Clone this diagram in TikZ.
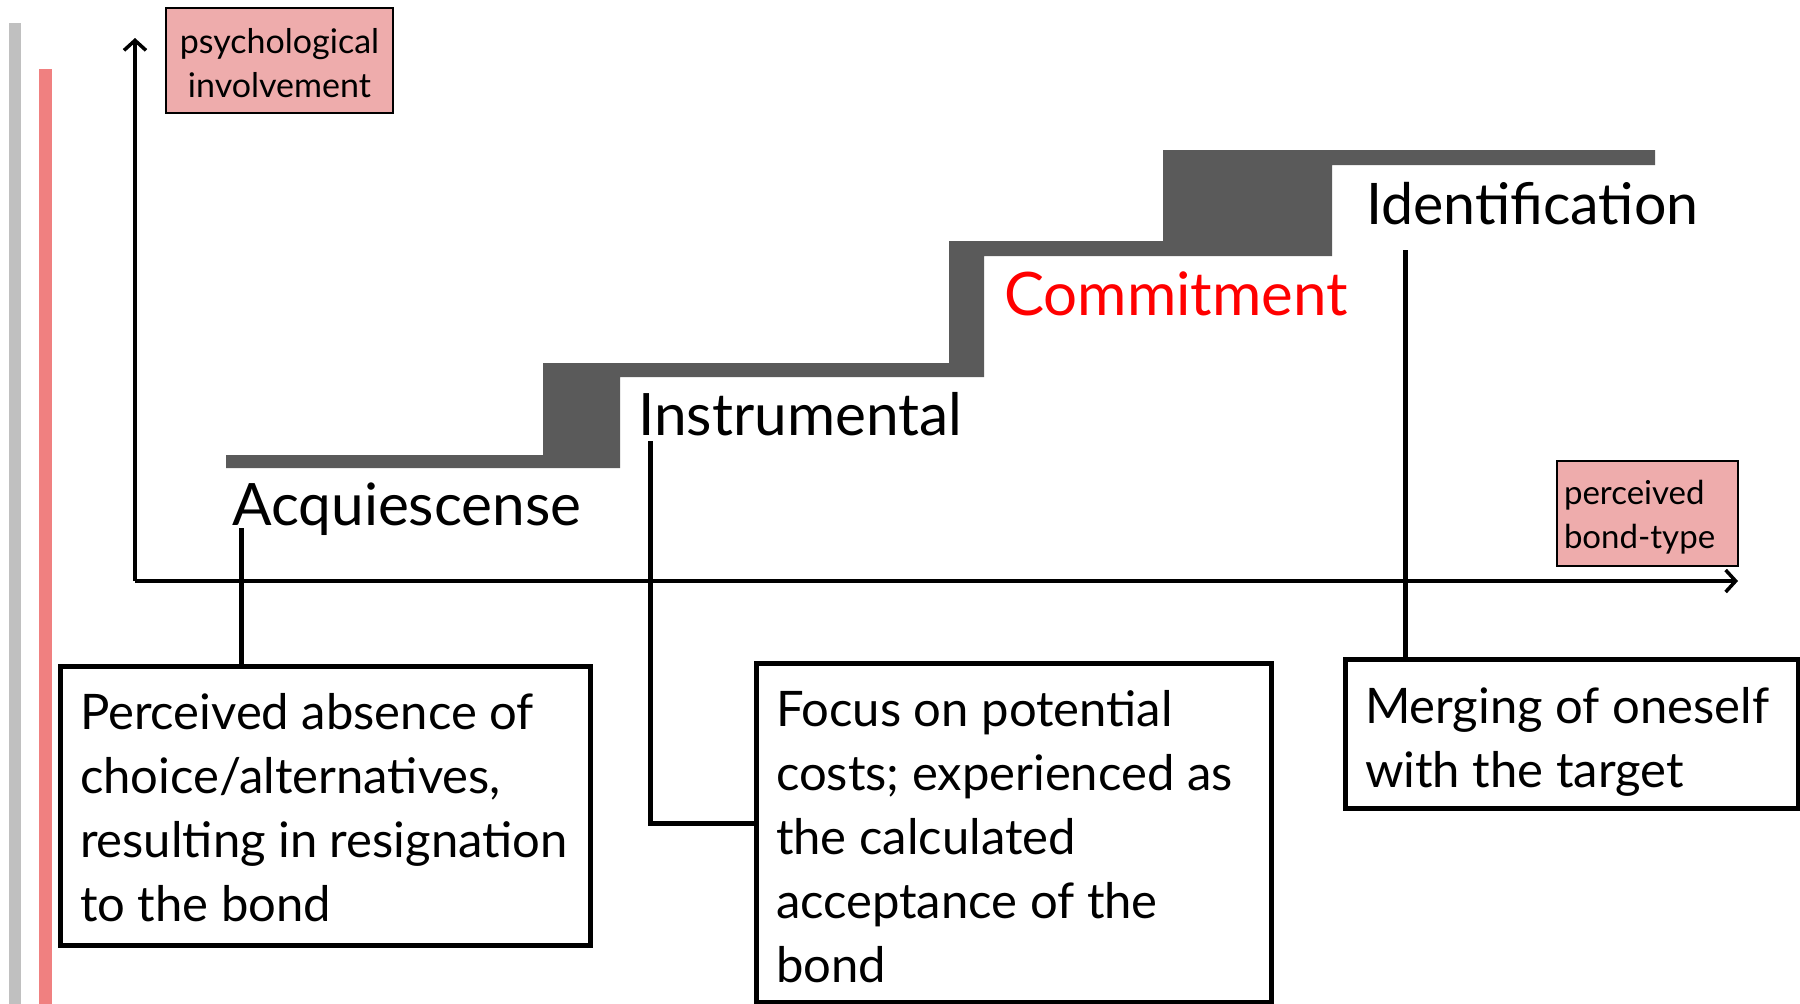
\documentclass[tikz,border=0pt]{standalone}
\usepackage{fontspec}
\setmainfont{Lato}
\usetikzlibrary{arrows.meta}
\definecolor{stairgray}{HTML}{5A5A5A}
\definecolor{tagpink}{HTML}{EEACAC}
\definecolor{barpink}{HTML}{F08080}
\definecolor{bargray}{HTML}{C0C0C0}
% text block of fixed size whose first baseline sits a given distance below the top
\newcommand{\padtext}[4]{%
  \begin{minipage}[t][#2][t]{#1}\raggedright\rule{0pt}{#3}#4\end{minipage}}
\begin{document}
\begin{tikzpicture}[x=1pt,y=-1pt,
  stagelabel/.style={anchor=base west, inner sep=0pt, font=\fontsize{58.5}{70}\selectfont},
  tagbox/.style={draw=black, line width=2pt, fill=tagpink, inner sep=0pt, outer sep=0pt,
    anchor=north west},
  descbox/.style={draw=black, line width=5pt, inner xsep=20pt, inner ysep=0pt, outer sep=0pt,
    anchor=north west, font=\fontsize{49}{64}\selectfont},
  leader/.style={line width=5pt},
  axis/.style={line width=3.5pt, -{Straight Barb[length=10pt,width=22pt]}}
]
\useasboundingbox (0,0) rectangle (1800,1004);

% side bars
\fill[bargray] (9,23) rectangle (21,1004);
\fill[barpink] (39,69) rectangle (52,1004);

% axes
\coordinate (origin) at (135,581);
\draw[axis] (origin) -- (135,38);
\draw[axis] (origin) -- (1738,581);

% axis tags
\node[tagbox, font=\fontsize{34}{44}\selectfont] (ytag) at (166,8)
  {\padtext{227pt}{105pt}{45pt}{\centering psychological\\involvement}};
\node[tagbox, inner xsep=7pt, font=\fontsize{33}{44}\selectfont] (xtag) at (1557,461)
  {\padtext{167pt}{105pt}{43pt}{perceived\\bond-type}};

% staircase
\fill[stairgray] (226,455) -- (543,455) -- (543,363) -- (949,363) -- (949,241)
  -- (1163,241) -- (1163,150) -- (1655,150) -- (1655,165) -- (1332,165)
  -- (1332,256) -- (984,256) -- (984,377) -- (620,377) -- (620,468)
  -- (226,468) -- cycle;

% stage labels
\node[stagelabel] (acq) at (232,525) {Acquiescense};
\node[stagelabel] (inst) at (638,435) {Instrumental};
\node[stagelabel, text=red, font=\fontsize{60}{72}\selectfont] (comm) at (1004,315) {Commitment};
\node[stagelabel, font=\fontsize{57.3}{70}\selectfont] (ident) at (1366,224) {Identification};

% description boxes
\node[descbox] (acqbox) at (60,666)
  {\padtext{490pt}{279pt}{63pt}{\mbox{Perceived absence of}\\\mbox{choice/alternatives,}\\\mbox{resulting in resignation}\\\mbox{to the bond}}};
\node[descbox] (instbox) at (756,663)
  {\padtext{475pt}{339pt}{63pt}{\mbox{Focus on potential}\\\mbox{costs; experienced as}\\\mbox{the calculated}\\\mbox{acceptance of the}\\\mbox{bond}}};
\node[descbox] (identbox) at (1345,659)
  {\padtext{413pt}{149pt}{64pt}{\mbox{Merging of oneself}\\\mbox{with the target}}};

% leaders from stage labels to their boxes
\coordinate (acqfoot) at (241,528);
\draw[leader] (acqfoot) -- (acqfoot |- acqbox.north);
\coordinate (instfoot) at (650,441);
\coordinate (instbend) at (650,823);
\draw[leader] (instfoot) -- (instbend) -- (instbend -| instbox.west);
\coordinate (identfoot) at (1405,250);
\draw[leader] (identfoot) -- (identfoot |- identbox.north);
\end{tikzpicture}
\end{document}
